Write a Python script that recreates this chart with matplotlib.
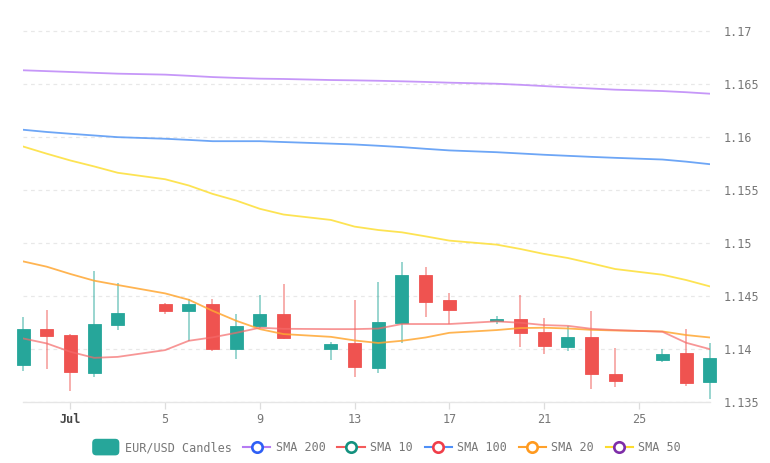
import matplotlib
matplotlib.use('Agg')
import matplotlib.pyplot as plt
import matplotlib.dates as mdates
from matplotlib.lines import Line2D
from matplotlib.patches import Patch, FancyBboxPatch
from matplotlib.legend_handler import HandlerPatch
import pandas as pd

# ---------------- data ----------------
dates = ['2021-06-29', '2021-06-30', '2021-07-01', '2021-07-02', '2021-07-03',
         '2021-07-05', '2021-07-06', '2021-07-07', '2021-07-08', '2021-07-09',
         '2021-07-10', '2021-07-12', '2021-07-13', '2021-07-14', '2021-07-15',
         '2021-07-16', '2021-07-17', '2021-07-19', '2021-07-20', '2021-07-21',
         '2021-07-22', '2021-07-23', '2021-07-24', '2021-07-26', '2021-07-27',
         '2021-07-28']

opens = [1.1385, 1.1419, 1.1413, 1.1377, 1.1422, 1.1442, 1.1436, 1.1442, 1.1400, 1.1421,
         1.1433, 1.1400, 1.1405, 1.1382, 1.1424, 1.1470, 1.1446, 1.1426, 1.1428, 1.1416,
         1.1402, 1.1411, 1.1376, 1.1389, 1.1396, 1.1369]
highs = [1.1430, 1.1437, 1.1414, 1.1473, 1.1462, 1.1443, 1.1447, 1.1447, 1.1433, 1.1451,
         1.1461, 1.1406, 1.1446, 1.1463, 1.1482, 1.1477, 1.1453, 1.1431, 1.1451, 1.1429,
         1.1421, 1.1436, 1.1401, 1.1400, 1.1419, 1.1405]
lows = [1.1379, 1.1381, 1.1360, 1.1373, 1.1418, 1.1433, 1.1407, 1.1398, 1.1390, 1.1420,
        1.1409, 1.1389, 1.1373, 1.1377, 1.1405, 1.1430, 1.1423, 1.1423, 1.1402, 1.1395,
        1.1398, 1.1362, 1.1364, 1.1387, 1.1365, 1.1353]
closes = [1.1419, 1.1412, 1.1378, 1.1423, 1.1434, 1.1436, 1.1442, 1.1400, 1.1421, 1.1433,
          1.1410, 1.1404, 1.1383, 1.1425, 1.1470, 1.1444, 1.1437, 1.1428, 1.1415, 1.1403,
          1.1411, 1.1376, 1.1370, 1.1395, 1.1368, 1.1391]

sma10 = [1.14097, 1.14050, 1.13971, 1.13914, 1.13923, 1.13987, 1.14075, 1.14107, 1.14150, 1.14198,
         1.14188, 1.14185, 1.14185, 1.14190, 1.14233, 1.14233, 1.14233, 1.14258, 1.14245, 1.14223,
         1.14216, 1.14188, 1.14176, 1.14160, 1.14056, 1.13996]
sma20 = [1.14824, 1.14774, 1.14705, 1.14642, 1.14601, 1.14522, 1.14462, 1.14358, 1.14264, 1.14185,
         1.14138, 1.14112, 1.14078, 1.14054, 1.14075, 1.14106, 1.14150, 1.14176, 1.14195, 1.14198,
         1.14191, 1.14178, 1.14172, 1.14163, 1.14129, 1.14106]
sma50 = [1.15908, 1.15840, 1.15776, 1.15720, 1.15660, 1.15599, 1.15540, 1.15461, 1.15398, 1.15320,
         1.15266, 1.15215, 1.15152, 1.15120, 1.15098, 1.15060, 1.15020, 1.14982, 1.14941, 1.14894,
         1.14856, 1.14805, 1.14752, 1.14698, 1.14648, 1.14588]
sma100 = [1.16066, 1.16045, 1.16028, 1.16012, 1.15996, 1.15981, 1.15970, 1.15958, 1.15958, 1.15958,
          1.15950, 1.15935, 1.15927, 1.15915, 1.15902, 1.15886, 1.15871, 1.15854, 1.15842, 1.15830,
          1.15820, 1.15810, 1.15801, 1.15785, 1.15765, 1.15741]
sma200 = [1.16627, 1.16619, 1.16611, 1.16603, 1.16595, 1.16586, 1.16575, 1.16563, 1.16555, 1.16548,
          1.16545, 1.16535, 1.16532, 1.16528, 1.16523, 1.16517, 1.16510, 1.16500, 1.16490, 1.16478,
          1.16466, 1.16455, 1.16444, 1.16431, 1.16420, 1.16406]

tick_dates = ['2021-07-01', '2021-07-05', '2021-07-09', '2021-07-13', '2021-07-17', '2021-07-21', '2021-07-25']
tick_labels = ['Jul', '5', '9', '13', '17', '21', '25']
y_ticks = [1.135, 1.14, 1.145, 1.15, 1.155, 1.16, 1.165, 1.17]
y_labels = ['1.135', '1.14', '1.145', '1.15', '1.155', '1.16', '1.165', '1.17']

# ---------------- style ----------------
UP = '#26a69a'
DOWN = '#ef5350'
FONT = 'DejaVu Sans Mono'
plt.rcParams['font.family'] = [FONT, 'DejaVu Sans']

x = mdates.date2num(pd.to_datetime(dates))
xt = mdates.date2num(pd.to_datetime(tick_dates))

fig = plt.figure(figsize=(7.7, 4.63), dpi=100)
ax = fig.add_axes([0.0299, 0.131, 0.892, 0.847])

ax.set_xlim(x[0], x[-1])
ax.set_ylim(1.13494, 1.17194)

# grid
for v in y_ticks:
    ax.axhline(v, color='#e8e8e8', lw=0.9, ls=(0, (3, 3)), zorder=0)

# candles
for xi, o, h, l, c in zip(x, opens, highs, lows, closes):
    col = UP if c >= o else DOWN
    ax.vlines(xi, l, h, color=col, lw=1.2, alpha=0.55, zorder=2, clip_on=False)
    ax.bar(xi, abs(c - o), bottom=min(o, c), width=0.55, color=col,
           edgecolor=col, linewidth=0.6, zorder=3, clip_on=False)

# moving averages
ax.plot(x, sma200, color='#c08cf8', lw=1.3, alpha=0.9, zorder=4)
ax.plot(x, sma100, color='#5d9cf5', lw=1.3, alpha=0.9, zorder=4)
ax.plot(x, sma50, color='#fde24a', lw=1.3, alpha=0.95, zorder=4)
ax.plot(x, sma20, color='#ffa733', lw=1.3, alpha=0.85, zorder=4)
ax.plot(x, sma10, color='#f56a6a', lw=1.3, alpha=0.7, zorder=4)

# axes styling
for s in ['top', 'right', 'left']:
    ax.spines[s].set_visible(False)
ax.spines['bottom'].set_color('#e6e6e6')
ax.spines['bottom'].set_linewidth(1.0)

ax.set_xticks(xt)
ax.set_xticklabels(tick_labels)
ax.tick_params(axis='x', length=5, width=0.9, color='#dddddd', labelcolor='#777777',
               labelsize=8.5, pad=3)
ax.get_xticklabels()[0].set_fontweight('bold')
ax.get_xticklabels()[0].set_color('#444444')

ax.yaxis.tick_right()
ax.set_yticks(y_ticks)
ax.set_yticklabels(y_labels)
ax.tick_params(axis='y', length=0, labelcolor='#777777', labelsize=8.5, pad=10)

# legend
class RoundHandler(HandlerPatch):
    def create_artists(self, legend, orig_handle, xdescent, ydescent, width, height, fontsize, trans):
        p = FancyBboxPatch((-xdescent, -ydescent - 3), width, height + 6,
                           boxstyle='round,pad=0,rounding_size=3',
                           fc=orig_handle.get_facecolor(), ec='none', transform=trans)
        return [p]

handles = [
    Patch(facecolor=UP, label='EUR/USD Candles'),
    Line2D([], [], color='#b57bf3', lw=1.5, marker='o', ms=7.5, mfc='white', mec='#2f5ff5', mew=1.9, label='SMA 200'),
    Line2D([], [], color='#f45b5b', lw=1.5, marker='o', ms=7.5, mfc='white', mec='#14917f', mew=1.9, label='SMA 10'),
    Line2D([], [], color='#4f8ff7', lw=1.5, marker='o', ms=7.5, mfc='white', mec='#f03e4a', mew=1.9, label='SMA 100'),
    Line2D([], [], color='#ffa12b', lw=1.5, marker='o', ms=7.5, mfc='white', mec='#ff9a1f', mew=1.9, label='SMA 20'),
    Line2D([], [], color='#fddc2e', lw=1.5, marker='o', ms=7.5, mfc='white', mec='#7e2ea8', mew=1.9, label='SMA 50'),
]
leg = fig.legend(handles=handles, loc='center', bbox_to_anchor=(0.502, 0.033), ncol=6,
                 frameon=False, fontsize=8.5, handlelength=2.3, handletextpad=0.45,
                 columnspacing=1.0, handler_map={Patch: RoundHandler()})
for t in leg.get_texts():
    t.set_color('#777777')

fig.savefig('out.png', dpi=100)
